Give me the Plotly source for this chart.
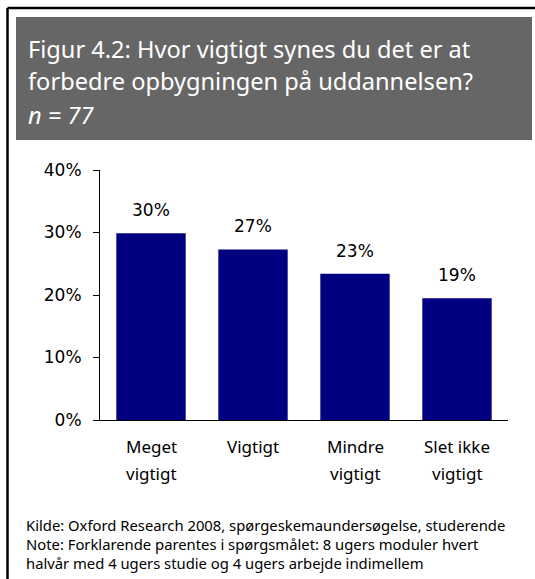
import plotly.graph_objects as go

# ---- data ----
categories = ["Meget<br>vigtigt", "Vigtigt", "Mindre<br>vigtigt", "Slet ikke<br>vigtigt"]
shares = [29.9, 27.3, 23.4, 19.5]
share_labels = ["30%", "27%", "23%", "19%"]
y_tickvals = [0, 10, 20, 30, 40]
y_ticktext = ["0%", "10%", "20%", "30%", "40%"]

title_lines = ["Figur 4.2: Hvor vigtigt synes du det er at",
               "forbedre opbygningen på uddannelsen?",
               "<i>n = 77</i>"]
note_lines = ["Kilde: Oxford Research 2008, spørgeskemaundersøgelse, studerende",
              "Note: Forklarende parentes i spørgsmålet: 8 ugers moduler hvert",
              "halvår med 4 ugers studie og 4 ugers arbejde indimellem"]

# ---- page geometry (pixels) ----
W, H = 535, 579
ML, MR, MT, MB = 100, 27, 170, 159
PW, PH = W - ML - MR, H - MT - MB


def px_x(x):
    return (x - ML) / PW


def px_y(y):
    return (H - MB - y) / PH


BAR = "#000080"
TEXT_FONT = "Noto Sans"
NUM_FONT = "DejaVu Sans"

fig = go.Figure()
fig.add_trace(go.Bar(x=categories, y=shares, marker=dict(color=BAR, line=dict(width=0)),
                     hoverinfo="skip"))

# value labels above bars
for cat, val, lab in zip(categories, shares, share_labels):
    fig.add_annotation(x=cat, y=val, text=lab, showarrow=False, yanchor="middle",
                       yshift=23, font=dict(family=NUM_FONT, size=17, color="black"))

# category labels, one annotation per line so the line spacing matches
for cat in categories:
    for j, part in enumerate(cat.split("<br>")):
        fig.add_annotation(x=cat, y=0, text=part, showarrow=False, yanchor="middle",
                           yshift=-26 - 27 * j,
                           font=dict(family=TEXT_FONT, size=17, color="black"))

# frame and grey title box
fig.add_shape(type="line", xref="paper", yref="paper", x0=px_x(7.5), x1=px_x(540),
              y0=px_y(8), y1=px_y(8), line=dict(color="black", width=2.5))
fig.add_shape(type="line", xref="paper", yref="paper", x0=px_x(7.5), x1=px_x(7.5),
              y0=px_y(8), y1=px_y(590), line=dict(color="black", width=2.5))
fig.add_shape(type="rect", xref="paper", yref="paper", x0=px_x(16), x1=px_x(532),
              y0=px_y(17), y1=px_y(140), fillcolor="#666666", line=dict(width=0), layer="below")

for i, line in enumerate(title_lines):
    fig.add_annotation(xref="paper", yref="paper", x=px_x(26), y=px_y(48.5 + i * 33),
                       xanchor="left", yanchor="middle", showarrow=False, text=line,
                       font=dict(family=TEXT_FONT, size=23.6, color="white"))

for i, line in enumerate(note_lines):
    fig.add_annotation(xref="paper", yref="paper", x=px_x(24), y=px_y(525 + i * 19),
                       xanchor="left", yanchor="middle", showarrow=False, text=line,
                       font=dict(family=TEXT_FONT, size=14.8, color="black"))

fig.update_layout(
    width=W, height=H,
    margin=dict(l=ML, r=MR, t=MT, b=MB, pad=0),
    paper_bgcolor="white", plot_bgcolor="white",
    showlegend=False, bargap=0.32,
)
fig.update_xaxes(showline=True, linecolor="black", linewidth=1, ticks="",
                 showticklabels=False, showgrid=False)
fig.update_yaxes(range=[0, 40], tickvals=y_tickvals, ticktext=y_ticktext,
                 showline=True, linecolor="black", linewidth=1, ticks="outside",
                 ticklen=6, tickcolor="black", showgrid=False, zeroline=False,
                 ticklabelstandoff=8,
                 tickfont=dict(family=NUM_FONT, size=17, color="black"))

# drop the default 8px page margin so the figure sits at the window corner
fig.write_html("out.html", config={"displayModeBar": False},
               post_script="document.body.style.margin='0';")
